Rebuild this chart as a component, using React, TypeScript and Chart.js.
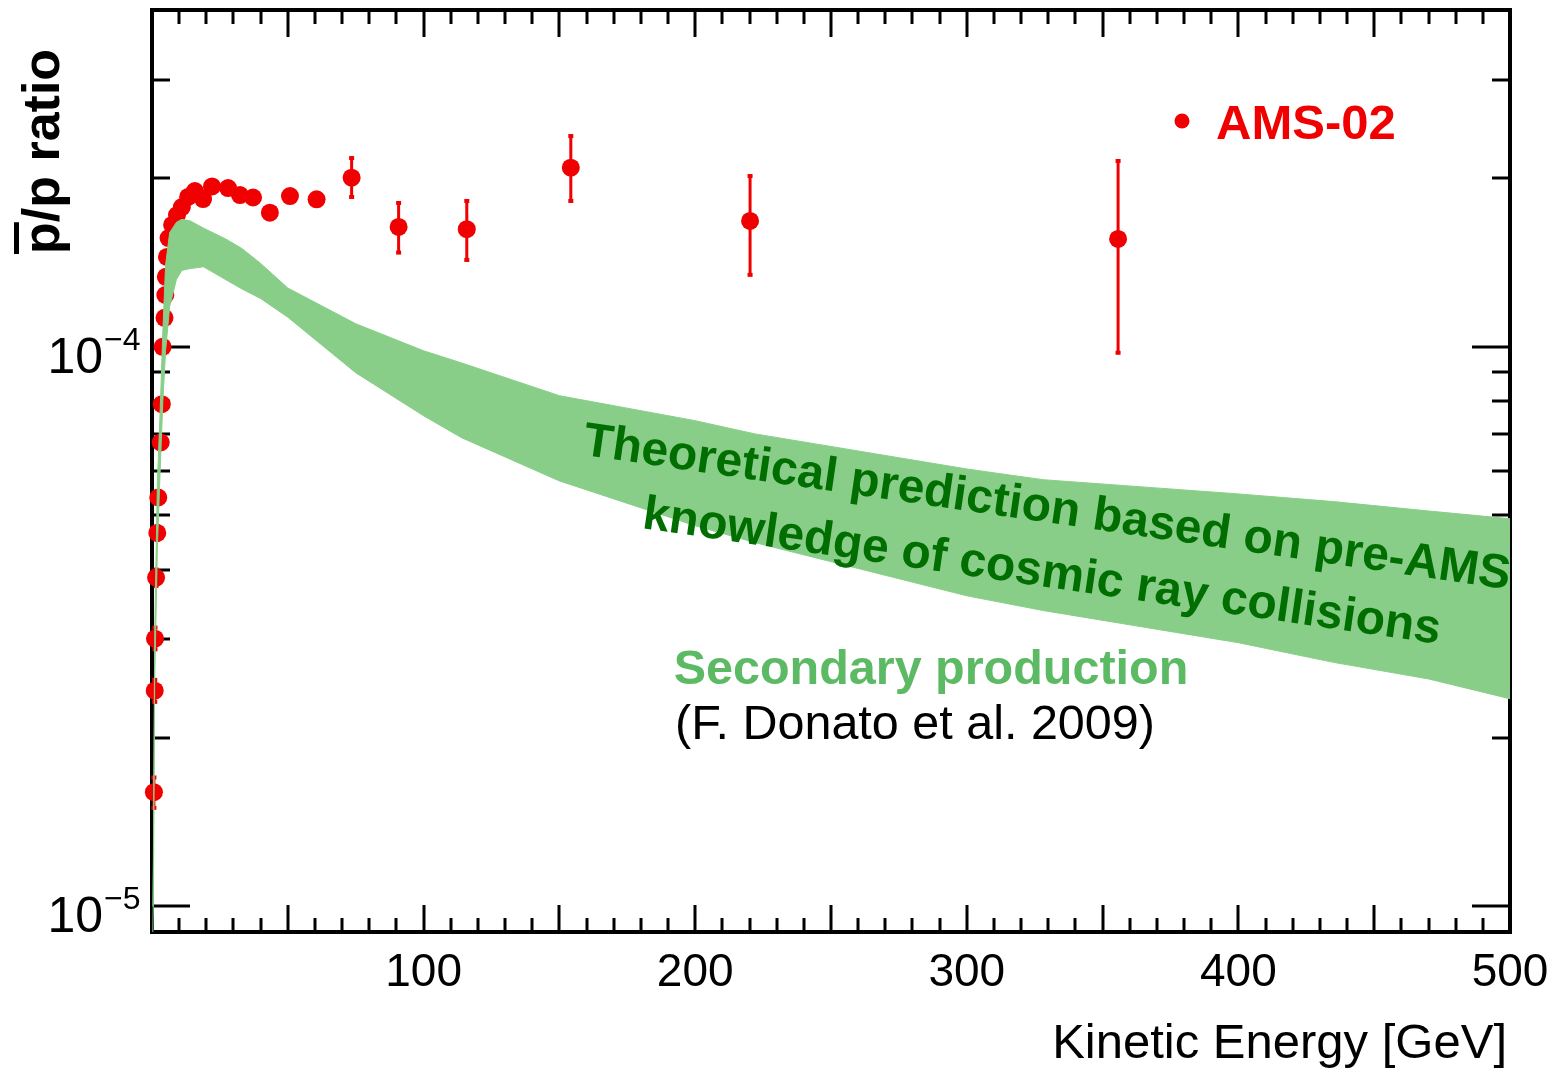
import React, { useEffect, useRef } from "react";
import { Chart, registerables } from "chart.js";

Chart.register(...registerables);

// ---- AMS-02 antiproton / proton ratio ----
const energyGeV = [
  0.7, 1.0, 1.1, 1.5, 1.95, 2.3, 3.2, 3.6, 3.9, 4.6, 4.9, 5.1, 5.5, 6.1, 7.4,
  9.2, 11.0, 13.3, 15.8, 18.8, 22.1, 28.0, 32.4, 37.2, 43.4, 50.8, 60.6, 73.5,
  90.8, 115.9, 154.2, 220.2, 355.7,
];
const pbarRatio = [
  1.6e-5, 2.43e-5, 3.01e-5, 3.87e-5, 4.65e-5, 5.38e-5, 6.75e-5, 7.9e-5, 1.0e-4,
  1.127e-4, 1.238e-4, 1.334e-4, 1.448e-4, 1.565e-4, 1.652e-4, 1.72e-4, 1.778e-4,
  1.853e-4, 1.899e-4, 1.837e-4, 1.935e-4, 1.922e-4, 1.868e-4, 1.849e-4,
  1.737e-4, 1.86e-4, 1.835e-4, 2.006e-4, 1.638e-4, 1.623e-4, 2.09e-4, 1.679e-4,
  1.559e-4,
];
const errLowBound = [
  1.5e-5, 2.32e-5, 2.88e-5, 3.74e-5, 4.52e-5, 5.25e-5, 6.62e-5, 7.77e-5, 0.98e-4,
  1.105e-4, 1.213e-4, 1.307e-4, 1.419e-4, 1.534e-4, 1.619e-4, 1.686e-4,
  1.742e-4, 1.816e-4, 1.861e-4, 1.8e-4, 1.896e-4, 1.88e-4, 1.83e-4, 1.81e-4,
  1.7e-4, 1.82e-4, 1.795e-4, 1.853e-4, 1.474e-4, 1.43e-4, 1.823e-4, 1.345e-4,
  0.976e-4,
];
const errHighBound = [
  1.7e-5, 2.54e-5, 3.15e-5, 4.0e-5, 4.78e-5, 5.51e-5, 6.88e-5, 8.03e-5, 1.02e-4,
  1.15e-4, 1.263e-4, 1.361e-4, 1.477e-4, 1.596e-4, 1.685e-4, 1.754e-4,
  1.814e-4, 1.89e-4, 1.937e-4, 1.874e-4, 1.974e-4, 1.96e-4, 1.905e-4, 1.89e-4,
  1.775e-4, 1.9e-4, 1.875e-4, 2.175e-4, 1.808e-4, 1.823e-4, 2.381e-4, 2.02e-4,
  2.149e-4,
];

// ---- Secondary production band (F. Donato et al. 2009) ----
const bandEnergy = [
  0.3, 0.5, 1, 2, 3, 4, 5, 6.5, 9, 11, 14, 19, 27, 33, 40, 50, 75, 100, 114, 150,
  200, 222, 300, 328, 400, 435, 470, 500,
];
const bandUpper = [
  1.0e-5, 1.21e-5, 3.11e-5, 5.76e-5, 7.68e-5, 1.07e-4, 1.4e-4, 1.6e-4, 1.67e-4,
  1.69e-4, 1.68e-4, 1.63e-4, 1.56e-4, 1.5e-4, 1.41e-4, 1.274e-4, 1.1e-4,
  9.84e-5, 9.36e-5, 8.18e-5, 7.38e-5, 6.99e-5, 6.05e-5, 5.79e-5, 5.46e-5,
  5.29e-5, 5.09e-5, 4.93e-5,
];
const bandLower = [
  9.0e-6, 1.03e-5, 2.53e-5, 4.41e-5, 6.0e-5, 8.01e-5, 9.84e-5, 1.18e-4, 1.32e-4,
  1.37e-4, 1.38e-4, 1.39e-4, 1.32e-4, 1.27e-4, 1.22e-4, 1.13e-4, 8.99e-5,
  7.53e-5, 6.88e-5, 5.76e-5, 4.79e-5, 4.47e-5, 3.59e-5, 3.38e-5, 2.96e-5,
  2.73e-5, 2.55e-5, 2.35e-5,
];

// ---- axes ----
const xMin = 0;
const xMax = 500;
const yMin = 9e-6;
const yMax = 4e-4;
const xTickValues = [100, 200, 300, 400, 500];
const xTickLabels = ["100", "200", "300", "400", "500"];
const yMajorValues = [1e-5, 1e-4];
const yMajorExponents = ["\u22125", "\u22124"];
const yMinorValues = [2e-5, 3e-5, 4e-5, 5e-5, 6e-5, 7e-5, 8e-5, 9e-5, 2e-4, 3e-4];

const RED = "rgb(240,0,0)";
const BAND = "rgb(136,206,136)";
const FONT = "'Liberation Sans', Arial, Helvetica, sans-serif";

const framePlugin = {
  id: "rootFrame",
  beforeDatasetsDraw(chart: any) {
    const { ctx, chartArea: a, scales } = chart;
    const x = scales.x;
    const y = scales.y;
    ctx.save();
    ctx.strokeStyle = "#000";
    ctx.lineWidth = 3;
    const seg = (x1: number, y1: number, x2: number, y2: number) => {
      ctx.beginPath();
      ctx.moveTo(x1, y1);
      ctx.lineTo(x2, y2);
      ctx.stroke();
    };
    for (let v = 10; v < xMax; v += 10) {
      const px = Math.round(x.getPixelForValue(v));
      const len = v % 50 === 0 ? 27 : 14;
      seg(px, a.bottom, px, a.bottom - len);
      seg(px, a.top, px, a.top + len);
    }
    yMajorValues.forEach((v) => {
      const py = Math.round(y.getPixelForValue(v));
      seg(a.left, py, a.left + 38, py);
      seg(a.right, py, a.right - 38, py);
    });
    yMinorValues.forEach((v) => {
      const py = Math.round(y.getPixelForValue(v));
      seg(a.left, py, a.left + 18, py);
      seg(a.right, py, a.right - 18, py);
    });
    ctx.lineWidth = 4;
    ctx.strokeRect(a.left, a.top, a.right - a.left, a.bottom - a.top);

    // tick labels
    ctx.fillStyle = "#000";
    ctx.font = `46px ${FONT}`;
    ctx.textAlign = "center";
    ctx.textBaseline = "alphabetic";
    xTickValues.forEach((v, i) => {
      ctx.fillText(xTickLabels[i], x.getPixelForValue(v), 986);
    });
    yMajorValues.forEach((v, i) => {
      const py = y.getPixelForValue(v);
      ctx.font = `50px ${FONT}`;
      ctx.textAlign = "right";
      ctx.fillText("10", 103, py + 26);
      ctx.font = `32px ${FONT}`;
      ctx.textAlign = "left";
      ctx.fillText(yMajorExponents[i], 104, py + 3);
    });

    // axis titles
    ctx.font = `49px ${FONT}`;
    ctx.textAlign = "right";
    ctx.fillText("Kinetic Energy [GeV]", 1507, 1058);

    ctx.save();
    ctx.translate(59, 254);
    ctx.rotate(-Math.PI / 2);
    ctx.font = `bold 52px ${FONT}`;
    ctx.textAlign = "left";
    ctx.fillText("p/p ratio", 0, 0);
    const pw = ctx.measureText("p").width;
    ctx.fillRect(0, -45, pw, 5);
    ctx.restore();
    ctx.restore();
  },
  beforeDatasetDraw(chart: any, args: any) {
    if (args.index !== 2) return;
    const { ctx, scales } = chart;
    const x = scales.x;
    const y = scales.y;
    ctx.save();
    ctx.strokeStyle = RED;
    ctx.fillStyle = RED;
    ctx.lineWidth = 3;
    energyGeV.forEach((e, i) => {
      const px = x.getPixelForValue(e);
      const pLo = y.getPixelForValue(errLowBound[i]);
      const pHi = y.getPixelForValue(errHighBound[i]);
      ctx.beginPath();
      ctx.moveTo(px, pLo);
      ctx.lineTo(px, pHi);
      ctx.stroke();
      ctx.fillRect(px - 2.5, pLo - 2, 5, 4);
      ctx.fillRect(px - 2.5, pHi - 2, 5, 4);
    });
    ctx.restore();
  },
  afterDatasetsDraw(chart: any) {
    const { ctx } = chart;
    ctx.save();
    // legend
    ctx.fillStyle = RED;
    ctx.beginPath();
    ctx.arc(1182, 121, 7.5, 0, Math.PI * 2);
    ctx.fill();
    ctx.font = `bold 49px ${FONT}`;
    ctx.textAlign = "left";
    ctx.textBaseline = "alphabetic";
    ctx.fillText("AMS-02", 1216, 139);

    // band annotation
    ctx.save();
    ctx.translate(1045, 522);
    ctx.rotate(0.1444);
    ctx.fillStyle = "rgb(0,110,0)";
    ctx.font = `bold 48px ${FONT}`;
    ctx.textAlign = "center";
    ctx.fillText("Theoretical prediction based on pre-AMS", 0, 0);
    ctx.fillText("knowledge of cosmic ray collisions", 4, 64);
    ctx.restore();

    ctx.textAlign = "center";
    ctx.fillStyle = "rgb(92,186,100)";
    ctx.font = `bold 48.5px ${FONT}`;
    ctx.fillText("Secondary production", 931, 684);
    ctx.fillStyle = "#000";
    ctx.font = `48.5px ${FONT}`;
    ctx.fillText("(F. Donato et al. 2009)", 915, 739);
    ctx.restore();
  },
};

export default function App() {
  const ref = useRef<HTMLCanvasElement>(null);
  useEffect(() => {
    document.body.style.margin = "0";
    const canvas = ref.current;
    if (!canvas) return;
    const chart = new Chart(canvas, {
      type: "line",
      data: {
        datasets: [
          {
            label: "band lower",
            data: bandEnergy.map((e, i) => ({ x: e, y: bandLower[i] })),
            borderColor: BAND,
            borderWidth: 1,
            pointRadius: 0,
            fill: false,
            tension: 0,
          },
          {
            label: "Secondary production",
            data: bandEnergy.map((e, i) => ({ x: e, y: bandUpper[i] })),
            borderColor: BAND,
            backgroundColor: BAND,
            borderWidth: 1,
            pointRadius: 0,
            fill: "-1",
            tension: 0,
          },
          {
            label: "AMS-02",
            data: energyGeV.map((e, i) => ({ x: e, y: pbarRatio[i] })),
            showLine: false,
            pointRadius: 9,
            pointHoverRadius: 9,
            pointBackgroundColor: RED,
            pointBorderWidth: 0,
            borderColor: RED,
            backgroundColor: RED,
            clip: false as any,
          },
        ],
      } as any,
      options: {
        animation: false,
        responsive: false,
        maintainAspectRatio: false,
        devicePixelRatio: 1,
        layout: { padding: { left: 152, right: 50, top: 10, bottom: 138 } },
        scales: {
          x: { type: "linear", min: xMin, max: xMax, display: false },
          y: { type: "logarithmic", min: yMin, max: yMax, display: false },
        },
        plugins: {
          legend: { display: false },
          tooltip: { enabled: false },
        },
        events: [],
      } as any,
      plugins: [framePlugin],
    });
    return () => chart.destroy();
  }, []);
  return (
    <canvas
      ref={ref}
      width={1560}
      height={1070}
      style={{ display: "block", width: 1560, height: 1070, background: "#fff" }}
    />
  );
}
